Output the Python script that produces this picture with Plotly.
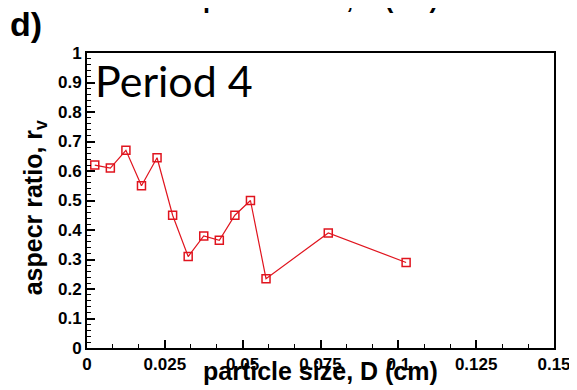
import plotly.graph_objects as go

particle_size = [0.0025, 0.0075, 0.0125, 0.0175, 0.0225, 0.0275, 0.0325, 0.0375,
                 0.0425, 0.0475, 0.0525, 0.0575, 0.0775, 0.1025]
aspect_ratio = [0.62, 0.61, 0.67, 0.55, 0.645, 0.45, 0.31, 0.38,
                0.365, 0.45, 0.50, 0.235, 0.39, 0.29]

x_ticks = [0, 0.025, 0.05, 0.075, 0.1, 0.125, 0.15]
x_tick_labels = ["0", "0.025", "0.05", "0.075", "0.1", "0.125", "0.15"]
y_ticks = [0, 0.1, 0.2, 0.3, 0.4, 0.5, 0.6, 0.7, 0.8, 0.9, 1.0]
y_tick_labels = ["0", "0.1", "0.2", "0.3", "0.4", "0.5", "0.6", "0.7", "0.8", "0.9", "1"]
x_title = "particle size, D (cm)"
y_title = "aspecr ratio, r<sub>v</sub>"

FONT = "Liberation Sans, Arial, sans-serif"

fig = go.Figure()
fig.add_trace(go.Scatter(
    x=particle_size, y=aspect_ratio, mode="lines+markers",
    line=dict(color="#e0141e", width=1.2),
    marker=dict(symbol="square-open", size=8, color="#e0141e", line=dict(width=1.5)),
    showlegend=False,
))

axis_common = dict(
    showline=True, linecolor="black", linewidth=2, mirror=True,
    ticks="inside", ticklen=8, tickwidth=1.5, tickcolor="black",
    showgrid=False, zeroline=False, automargin=False,
    tickfont=dict(family=FONT, size=17, color="black", weight="bold"),
)

fig.update_xaxes(
    range=[0, 0.15], tickvals=x_ticks, ticktext=x_tick_labels,
    minor=dict(dtick=0.025 / 3, ticks="inside", ticklen=4, tickcolor="black", tickwidth=1),
    **axis_common,
)
fig.update_yaxes(
    range=[0, 1], tickvals=y_ticks, ticktext=y_tick_labels,
    minor=dict(dtick=0.02, ticks="inside", ticklen=4, tickcolor="black", tickwidth=1),
    **axis_common,
)

# axis titles placed as annotations for precise positioning
fig.add_annotation(
    text=x_title, xref="paper", yref="paper", x=0.5, y=-0.132,
    xanchor="center", yanchor="bottom", showarrow=False,
    font=dict(family=FONT, size=25, color="black", weight="bold"),
)
fig.add_annotation(
    text=y_title, xref="paper", yref="paper", x=-0.111, y=0.474,
    xanchor="center", yanchor="middle", showarrow=False, textangle=-90,
    font=dict(family=FONT, size=25, color="black", weight="bold"),
)
fig.add_annotation(
    text="Period 4", xref="paper", yref="paper", x=0.012, y=1.0,
    xanchor="left", yanchor="top", showarrow=False,
    font=dict(family="Lato, Open Sans, sans-serif", size=43, color="black"),
)
fig.add_annotation(
    text="d)", xref="paper", yref="paper", x=-0.17, y=1.17,
    xanchor="left", yanchor="top", showarrow=False,
    font=dict(family=FONT, size=34, color="black", weight="bold"),
)
# title of the panel above, mostly cut off at the top edge
fig.add_annotation(
    text=x_title, xref="paper", yref="paper", x=0.5, y=1.13,
    xanchor="center", yanchor="bottom", showarrow=False,
    font=dict(family=FONT, size=25, color="black", weight="bold"),
)

# page body has an 8px margin, so the figure is sized to fill the rest of the window
fig.update_layout(
    width=569, height=382,
    margin=dict(l=79, r=23, t=45, b=42),
    paper_bgcolor="white", plot_bgcolor="white",
)

fig.write_html("out.html")
